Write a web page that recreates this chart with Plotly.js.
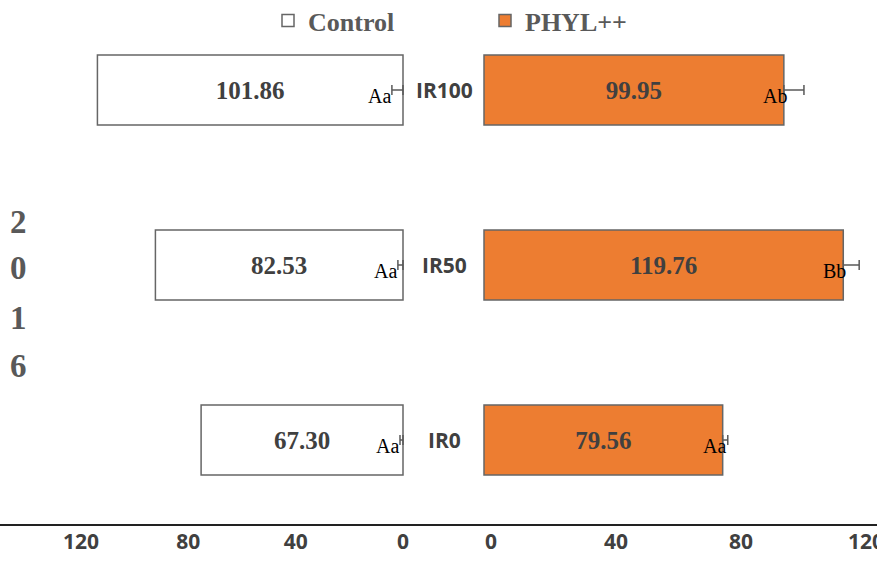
<!DOCTYPE html>
<html>
<head>
<meta charset="utf-8">
<script src="https://cdn.plot.ly/plotly-3.0.1.min.js"></script>
<style>html,body{margin:0;padding:0;background:#fff;}#chart{width:877px;height:563px;}</style>
</head>
<body>
<div id="chart"></div>
<script>
const categories = ['IR0', 'IR50', 'IR100'];
const controlValues = [67.30, 82.53, 101.86];
const phylValues = [79.56, 119.76, 99.95];
const controlErr = [1.0, 1.7, 3.7];
const phylErr = [1.7, 5.3, 6.7];
const controlLetters = ['Aa', 'Aa', 'Aa'];
const phylLetters = ['Aa', 'Bb', 'Ab'];
const leftTicks = [0, 40, 80, 120];
const rightTicks = [0, 40, 80, 120];
const yearLabel = '2016';
const seriesNames = ['Control', 'PHYL++'];

const W = 877, H = 563, BOTTOM = 38;
const PH = H - BOTTOM;
const zeros = categories.map(() => 0);
const serif = 'Liberation Serif, Times New Roman, serif';
const sans = 'Open Sans, Liberation Sans, sans-serif';

const traces = [
  {
    type: 'bar', orientation: 'h', name: seriesNames[0],
    x: controlValues, y: categories, xaxis: 'x', yaxis: 'y',
    marker: {color: '#ffffff', line: {color: '#666666', width: 1.5}},
    texttemplate: '%{x:.2f}', textposition: 'inside', insidetextanchor: 'middle',
    textfont: {family: serif, size: 25, color: '#404040', weight: 'bold'},
    constraintext: 'none', hoverinfo: 'skip'
  },
  {
    type: 'bar', orientation: 'h', name: seriesNames[1],
    x: phylValues, y: categories, xaxis: 'x2', yaxis: 'y',
    marker: {color: '#ED7D31', line: {color: '#666666', width: 1.5}},
    texttemplate: '%{x:.2f}', textposition: 'inside', insidetextanchor: 'middle',
    textfont: {family: serif, size: 25, color: '#404040', weight: 'bold'},
    constraintext: 'none', hoverinfo: 'skip',
    error_x: {type: 'data', symmetric: false, array: phylErr, arrayminus: zeros,
              color: '#595959', thickness: 1.5, width: 5}
  },
  {
    type: 'scatter', mode: 'markers', x: zeros, y: categories, xaxis: 'x', yaxis: 'y',
    marker: {opacity: 0, size: 1}, showlegend: false, hoverinfo: 'skip',
    error_x: {type: 'data', symmetric: false, array: controlErr, arrayminus: zeros,
              color: '#595959', thickness: 1.5, width: 5}
  },
  {
    type: 'scatter', mode: 'markers', x: leftTicks, y: leftTicks.map(() => categories[0]),
    xaxis: 'x3', yaxis: 'y', marker: {opacity: 0, size: 1}, showlegend: false, hoverinfo: 'skip'
  },
  {
    type: 'scatter', mode: 'markers', x: rightTicks, y: rightTicks.map(() => categories[0]),
    xaxis: 'x4', yaxis: 'y', marker: {opacity: 0, size: 1}, showlegend: false, hoverinfo: 'skip'
  }
];

const annotations = [];
categories.forEach((c, i) => {
  annotations.push({xref: 'paper', yref: 'y', x: 444 / W, y: c, text: '<b>' + c + '</b>', showarrow: false,
    xanchor: 'center', yanchor: 'middle',
    font: {family: sans, size: 21, color: '#404040'}});
  annotations.push({xref: 'x', yref: 'y', x: controlErr[i], y: c, text: controlLetters[i], showarrow: false,
    xanchor: 'right', yanchor: 'middle', yshift: -6, xshift: 1,
    font: {family: serif, size: 20, color: '#000000'}});
  annotations.push({xref: 'x2', yref: 'y', x: phylValues[i], y: c, text: phylLetters[i], showarrow: false,
    xanchor: 'right', yanchor: 'middle', yshift: -6, xshift: 5,
    font: {family: serif, size: 20, color: '#000000'}});
});
const yearY = [222, 268, 318, 366];
yearLabel.split('').forEach((ch, i) => {
  annotations.push({xref: 'paper', yref: 'paper', x: 18 / W, y: 1 - yearY[i] / PH, text: '<b>' + ch + '</b>',
    showarrow: false, xanchor: 'center', yanchor: 'middle',
    font: {family: serif, size: 33, color: '#595959'}});
});

const tickFont = {family: sans, size: 21, color: '#404040', weight: 'bold'};
const hidden = {showgrid: false, zeroline: false, showline: false, showticklabels: false, ticks: ''};

const layout = {
  width: W, height: H,
  margin: {l: 0, r: 0, t: 0, b: BOTTOM, pad: 0, autoexpand: false},
  paper_bgcolor: '#ffffff', plot_bgcolor: 'rgba(0,0,0,0)',
  bargap: 0.6,
  showlegend: true,
  legend: {orientation: 'h', x: 268 / W, xanchor: 'left', y: 1 + 3 / PH, yanchor: 'top',
    font: {family: serif, size: 26, color: '#595959', weight: 'bold'},
    bgcolor: 'rgba(0,0,0,0)', entrywidth: 172, traceorder: 'normal'},
  xaxis: Object.assign({domain: [0, 407 / W], range: [403 / 3, -4 / 3], anchor: 'y'}, hidden),
  xaxis2: Object.assign({domain: [480 / W, 1], range: [-4 / 3, 393 / 3], anchor: 'y'}, hidden),
  xaxis3: {overlaying: 'x', anchor: 'y', range: [403 / 2.683, -4 / 2.683], side: 'bottom',
    tickvals: leftTicks, ticks: '', showgrid: false, zeroline: false, showline: false,
    tickfont: tickFont, ticklabelstandoff: 2, ticklabeloverflow: 'allow', automargin: false},
  xaxis4: {overlaying: 'x2', anchor: 'y', range: [-11 / 3.125, 386 / 3.125], side: 'bottom',
    tickvals: rightTicks, ticks: '', showgrid: false, zeroline: false, showline: false,
    tickfont: tickFont, ticklabelstandoff: 2, ticklabeloverflow: 'allow', automargin: false},
  yaxis: Object.assign({domain: [0, 1], range: [-85 / 175, 2 + 90 / 175], type: 'category',
    categoryorder: 'array', categoryarray: categories}, hidden),
  shapes: [{type: 'line', xref: 'paper', yref: 'paper', x0: 0, x1: 1, y0: 0, y1: 0,
    line: {color: '#222222', width: 2}}],
  annotations: annotations
};

Plotly.newPlot('chart', traces, layout, {displayModeBar: false, staticPlot: true});
</script>
</body>
</html>
